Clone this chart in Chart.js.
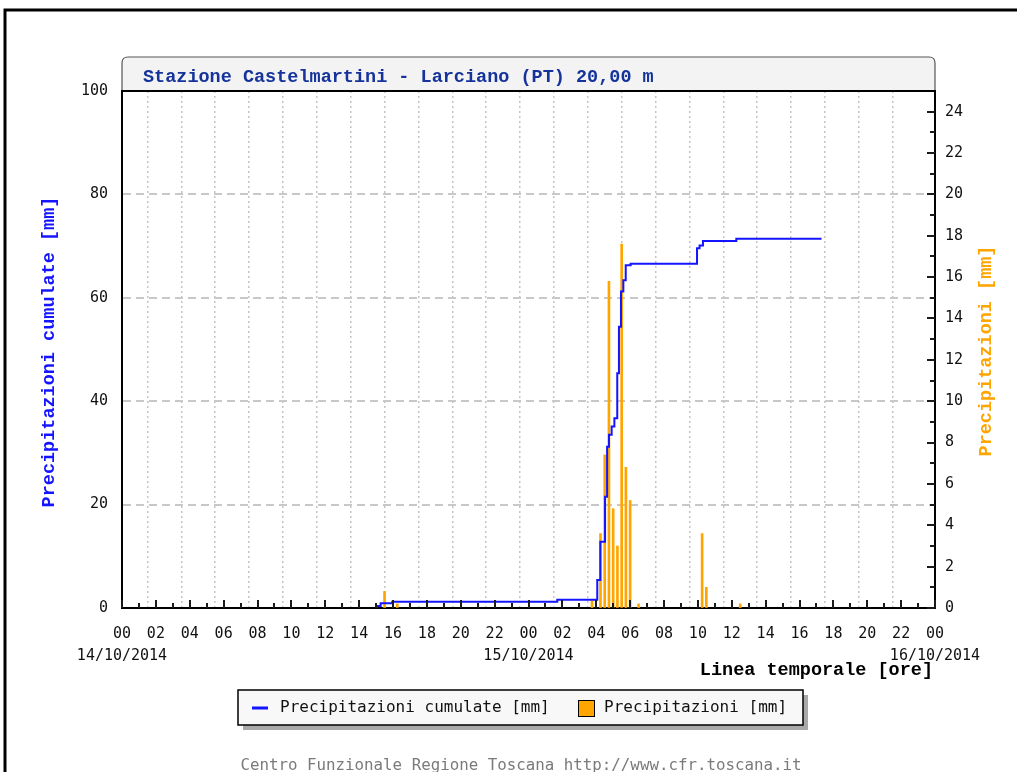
<!DOCTYPE html>
<html lang="it">
<head>
<meta charset="utf-8">
<title>Stazione Castelmartini - Larciano (PT)</title>
<script src="https://cdn.jsdelivr.net/npm/chart.js@4.4.1/dist/chart.umd.min.js"></script>
<style>
    html, body { margin: 0; padding: 0; background: #fff; }
    canvas { display: block; }
</style>
</head>
<body>
<canvas id="rainChart" width="1017" height="772"></canvas>
<script>
// time is in hours from 14/10/2014 00:00
const stationTitle = 'Stazione Castelmartini - Larciano (PT) 20,00 m';
const tickDates = ['14/10/2014', '15/10/2014', '16/10/2014'];

// 15-minute rainfall [mm] (right axis)
const rainHours = [15.5, 16.25, 27.75, 28.25, 28.5, 28.75, 29.0, 29.25, 29.5, 29.75, 30.0, 30.5, 34.25, 34.5, 36.5];
const rainValues = [0.8, 0.2, 0.35, 3.6, 7.4, 15.8, 4.8, 3.0, 17.6, 6.8, 5.2, 0.2, 3.6, 1.0, 0.2];

// cumulative rainfall [mm] (left axis), value reached at each time
const cumHours = [14.94, 15.04, 15.27, 15.96, 25.7, 28.06, 28.24, 28.52, 28.64, 28.75, 28.91, 29.07, 29.24, 29.34, 29.46, 29.6, 29.74, 30.03, 33.95, 34.1, 34.3, 36.27, 41.3];
const cumValues = [0, 0.4, 0.9, 1.2, 1.6, 5.4, 12.8, 21.5, 31.2, 33.5, 35.1, 36.7, 45.4, 54.4, 61.2, 63.4, 66.3, 66.6, 69.6, 70.1, 71.0, 71.4, 71.4];

const BLUE = '#1414ff';
const ORANGE = '#ffa500';
const monoFont = '"DejaVu Sans Mono", "Liberation Mono", monospace';
const boldFont = '"Liberation Mono", "DejaVu Sans Mono", monospace';

/**
 * @param {number} value
 */
function hourLabel(value) {
    if (value % 2 !== 0) {
        return '';
    }
    const hh = String(value % 24).padStart(2, '0');
    if (value % 24 === 0) {
        return [hh, tickDates[value / 24]];
    }
    return hh;
}

/**
 * @param {CanvasRenderingContext2D} ctx
 */
function drawRotated(ctx, text, x, y, color) {
    ctx.save();
    ctx.translate(x, y);
    ctx.rotate(-Math.PI / 2);
    ctx.fillStyle = color;
    ctx.font = 'bold 18.5px ' + boldFont;
    ctx.textAlign = 'center';
    ctx.textBaseline = 'middle';
    ctx.fillText(text, 0, 0);
    ctx.restore();
}

const decorations = {
    id: 'decorations',
    afterDraw(chart) {
        const { ctx, chartArea: area, scales } = chart;
        ctx.save();

        // inward tick marks, bottom axis
        ctx.strokeStyle = '#1a1a1a';
        ctx.lineWidth = 2;
        ctx.beginPath();
        scales.x.ticks.forEach((t) => {
            const x = Math.round(scales.x.getPixelForValue(t.value));
            const len = t.value % 2 === 0 ? 8 : 5;
            ctx.moveTo(x, area.bottom);
            ctx.lineTo(x, area.bottom - len);
        });
        // inward tick marks, right axis
        scales.y1.ticks.forEach((t) => {
            const y = Math.round(scales.y1.getPixelForValue(t.value));
            const len = t.value % 2 === 0 ? 8 : 5;
            ctx.moveTo(area.right, y);
            ctx.lineTo(area.right - len, y);
        });
        ctx.stroke();

        // title box
        const r = 6;
        const top = 57;
        ctx.beginPath();
        ctx.moveTo(area.left, area.top);
        ctx.lineTo(area.left, top + r);
        ctx.quadraticCurveTo(area.left, top, area.left + r, top);
        ctx.lineTo(area.right - r, top);
        ctx.quadraticCurveTo(area.right, top, area.right, top + r);
        ctx.lineTo(area.right, area.top);
        ctx.closePath();
        ctx.fillStyle = '#f3f3f3';
        ctx.fill();
        ctx.strokeStyle = '#555';
        ctx.lineWidth = 1.2;
        ctx.stroke();
        ctx.strokeStyle = '#000';
        ctx.lineWidth = 2;
        ctx.beginPath();
        ctx.moveTo(area.left - 1, area.top);
        ctx.lineTo(area.right + 1, area.top);
        ctx.stroke();

        ctx.fillStyle = '#15339a';
        ctx.font = 'bold 18.5px ' + boldFont;
        ctx.textAlign = 'left';
        ctx.textBaseline = 'alphabetic';
        ctx.fillText(stationTitle, 143, 82);

        // axis titles
        ctx.fillStyle = '#000';
        ctx.textAlign = 'right';
        ctx.fillText('Linea temporale [ore]', 933, 675);
        drawRotated(ctx, chart.data.datasets[0].label, 49, 352, BLUE);
        drawRotated(ctx, chart.data.datasets[1].label, 986, 351, ORANGE);

        // legend with drop shadow
        const lx = 238, ly = 690, lw = 565, lh = 35;
        ctx.fillStyle = '#a9a9a9';
        ctx.fillRect(lx + 5, ly + 5, lw, lh);
        ctx.fillStyle = '#f8f8f8';
        ctx.fillRect(lx, ly, lw, lh);
        ctx.strokeStyle = '#000';
        ctx.lineWidth = 1.5;
        ctx.strokeRect(lx, ly, lw, lh);

        ctx.strokeStyle = BLUE;
        ctx.lineWidth = 3;
        ctx.beginPath();
        ctx.moveTo(252, 708);
        ctx.lineTo(268, 708);
        ctx.stroke();
        ctx.fillStyle = ORANGE;
        ctx.fillRect(578, 700, 16, 16);
        ctx.strokeStyle = '#000';
        ctx.lineWidth = 1;
        ctx.strokeRect(578.5, 700.5, 16, 16);

        ctx.fillStyle = '#111';
        ctx.font = '16px ' + monoFont;
        ctx.textAlign = 'left';
        ctx.textBaseline = 'middle';
        ctx.fillText(chart.data.datasets[0].label, 280, 708);
        ctx.fillText(chart.data.datasets[1].label, 604, 708);

        // footer
        ctx.fillStyle = '#7a7a7a';
        ctx.font = '15.8px ' + monoFont;
        ctx.textAlign = 'center';
        ctx.textBaseline = 'alphabetic';
        ctx.fillText('Centro Funzionale Regione Toscana http://www.cfr.toscana.it', 521, 770);

        // outer frame
        ctx.strokeStyle = '#000';
        ctx.lineWidth = 3;
        ctx.beginPath();
        ctx.moveTo(5, 772);
        ctx.lineTo(5, 10);
        ctx.lineTo(1017, 10);
        ctx.stroke();

        ctx.restore();
    },
};

const tickFont = { family: monoFont, size: 15, lineHeight: 1.45 };

new Chart(document.getElementById('rainChart'), {
    type: 'line',
    data: {
        datasets: [
            {
                type: 'line',
                label: 'Precipitazioni cumulate [mm]',
                data: cumHours.map((h, i) => ({ x: h, y: cumValues[i] })),
                yAxisID: 'y',
                borderColor: BLUE,
                borderWidth: 2,
                pointRadius: 0,
                stepped: 'before',
                fill: false,
                order: 1,
            },
            {
                type: 'bar',
                label: 'Precipitazioni [mm]',
                data: rainHours.map((h, i) => ({ x: h, y: rainValues[i] })),
                yAxisID: 'y1',
                backgroundColor: ORANGE,
                barThickness: 2,
                order: 2,
            },
        ],
    },
    options: {
        responsive: false,
        animation: false,
        devicePixelRatio: 1,
        layout: { padding: { top: 91, left: 0, right: 0, bottom: 0 } },
        plugins: {
            legend: { display: false },
            tooltip: { enabled: false },
        },
        scales: {
            x: {
                type: 'linear',
                min: 0,
                max: 48,
                offset: false,
                afterFit: (scale) => { scale.height = 164; },
                ticks: {
                    stepSize: 1,
                    autoSkip: false,
                    maxRotation: 0,
                    padding: 15,
                    color: '#111',
                    font: tickFont,
                    callback: hourLabel,
                },
                grid: {
                    drawTicks: false,
                    lineWidth: 1.5,
                    color: (c) => (c.tick && c.tick.value % 2 === 0 && c.tick.value > 0 && c.tick.value < 48 ? '#c4c4c4' : 'rgba(0,0,0,0)'),
                },
                border: { display: true, color: '#000', width: 2, dash: [2, 3] },
            },
            y: {
                position: 'left',
                min: 0,
                max: 100,
                afterFit: (scale) => { scale.width = 122; },
                ticks: { stepSize: 20, padding: 14, color: '#111', font: { family: monoFont, size: 15 } },
                grid: {
                    drawTicks: false,
                    lineWidth: 2,
                    color: (c) => (c.tick && c.tick.value > 0 && c.tick.value < 100 ? '#c8c8c8' : 'rgba(0,0,0,0)'),
                },
                border: { display: true, color: '#000', width: 2, dash: [8, 5] },
            },
            y1: {
                position: 'right',
                min: 0,
                max: 25,
                afterFit: (scale) => { scale.width = 82; },
                ticks: {
                    stepSize: 1,
                    autoSkip: false,
                    padding: 10,
                    color: '#111',
                    font: { family: monoFont, size: 15 },
                    callback: (v) => (v % 2 === 0 ? String(v) : ''),
                },
                grid: { drawOnChartArea: false, drawTicks: false },
                border: { display: true, color: '#000', width: 2 },
            },
        },
    },
    plugins: [decorations],
});
</script>
</body>
</html>
